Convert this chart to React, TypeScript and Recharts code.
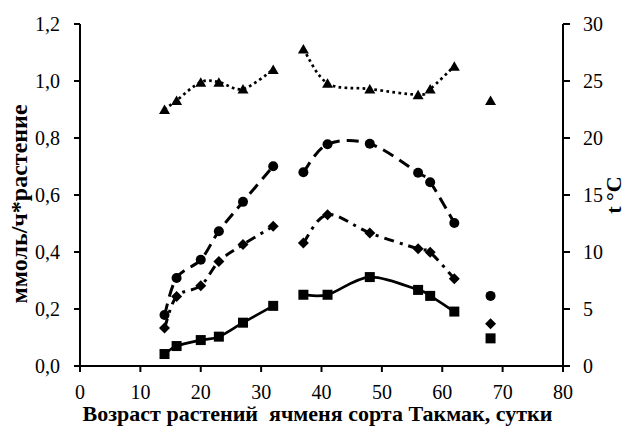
import React from 'react';
import { ComposedChart, Line, XAxis, YAxis, Label } from 'recharts';

// возраст растений, сутки
const days = [14, 16, 20, 23, 27, 32, 37, 41, 48, 56, 58, 62, 68];
// line breaks after these days
const breaksAfter = [32, 62];

const squares = [0.042, 0.07, 0.091, 0.103, 0.152, 0.211, 0.25, 0.25, 0.312, 0.267, 0.246, 0.191, 0.097];
const circles = [0.179, 0.309, 0.373, 0.473, 0.576, 0.701, 0.68, 0.778, 0.78, 0.678, 0.645, 0.502, 0.246];
const diamonds = [0.133, 0.244, 0.282, 0.367, 0.426, 0.49, 0.432, 0.531, 0.467, 0.411, 0.399, 0.306, 0.148];
const temperature = [22.5, 23.3, 24.9, 24.9, 24.3, 26.0, 27.8, 24.8, 24.3, 23.8, 24.3, 26.3, 23.3];

const xTicks = [0, 10, 20, 30, 40, 50, 60, 70, 80];
const leftTicks = [0, 0.2, 0.4, 0.6, 0.8, 1.0, 1.2];
const rightTicks = [0, 5, 10, 15, 20, 25, 30];

const FONT = '"Liberation Serif", "Times New Roman", serif';

const rows: any[] = [];
days.forEach((d, i) => {
  rows.push({ x: d, sq: squares[i], ci: circles[i], di: diamonds[i], t: temperature[i] });
  if (breaksAfter.includes(d) && i < days.length - 1) {
    rows.push({ x: (d + days[i + 1]) / 2 });
  }
});

// Excel-like smoothed line (Catmull-Rom)
const smooth = (context: any) => {
  let pts: number[][] = [];
  return {
    areaStart() {},
    areaEnd() {},
    lineStart() {
      pts = [];
    },
    lineEnd() {
      const n = pts.length;
      if (!n) return;
      context.moveTo(pts[0][0], pts[0][1]);
      for (let i = 0; i < n - 1; i++) {
        const p0 = pts[Math.max(i - 1, 0)];
        const p1 = pts[i];
        const p2 = pts[i + 1];
        const p3 = pts[Math.min(i + 2, n - 1)];
        context.bezierCurveTo(
          p1[0] + (p2[0] - p0[0]) / 6,
          p1[1] + (p2[1] - p0[1]) / 6,
          p2[0] - (p3[0] - p1[0]) / 6,
          p2[1] - (p3[1] - p1[1]) / 6,
          p2[0],
          p2[1]
        );
      }
    },
    point(x: number, y: number) {
      pts.push([+x, +y]);
    },
  };
};

const marker = (kind: string) => (props: any) => {
  const { cx, cy, value, index } = props;
  const key = `${kind}-${index}`;
  if (cx == null || cy == null || value == null) return <g key={key} />;
  if (kind === 'square') return <rect key={key} x={cx - 5} y={cy - 5} width={10} height={10} fill="#000" />;
  if (kind === 'circle') return <circle key={key} cx={cx} cy={cy} r={5} fill="#000" />;
  if (kind === 'diamond')
    return <polygon key={key} points={`${cx},${cy - 5.5} ${cx + 5.5},${cy} ${cx},${cy + 5.5} ${cx - 5.5},${cy}`} fill="#000" />;
  return <polygon key={key} points={`${cx},${cy - 5} ${cx + 5.5},${cy + 4.5} ${cx - 5.5},${cy + 4.5}`} fill="#000" />;
};

const fmt = (v: number) => v.toFixed(1).replace('.', ',');
const titleStyle = { fontFamily: FONT, fontSize: 22, fontWeight: 'bold' as const };

const makeTick = (format: (v: number) => string, dy: string) => (p: any) => (
  <text
    key={`t-${p.index}-${p.payload.value}`}
    x={p.x}
    y={p.y}
    dy={dy}
    textAnchor={p.textAnchor}
    style={{ fontFamily: FONT, fontSize: 20 }}
    fill="#000"
  >
    {format(p.payload.value)}
  </text>
);

const App = () => {
  return (
    <div style={{ position: 'absolute', left: 0, top: 0, background: '#fff' }}>
      <ComposedChart width={634} height={434} data={rows} margin={{ top: 24, right: 0, left: 0, bottom: 0 }}>
        <XAxis
          dataKey="x"
          type="number"
          domain={[0, 80]}
          ticks={xTicks}
          height={68}
          tick={makeTick(String, '0.71em')}
          tickSize={6}
          tickMargin={13}
          stroke="#000"
          strokeWidth={2}
        >
          <Label
            content={({ viewBox }: any) => (
              <text x={viewBox.x + viewBox.width / 2 - 4} y={421} textAnchor="middle" style={titleStyle} fill="#000">
                {'Возраст растений\u00A0 ячменя сорта Такмак, сутки'}
              </text>
            )}
          />
        </XAxis>
        <YAxis
          yAxisId="left"
          orientation="left"
          width={80}
          domain={[0, 1.2]}
          ticks={leftTicks}
          tick={makeTick(fmt, '0.34em')}
          tickSize={6}
          tickMargin={14}
          stroke="#000"
          strokeWidth={2}
        >
          <Label
            content={({ viewBox }: any) => {
              const cy = viewBox.y + viewBox.height / 2 + 9;
              return (
                <text
                  x={19}
                  y={cy}
                  transform={`rotate(-90 19 ${cy})`}
                  textAnchor="middle"
                  dominantBaseline="central"
                  style={{ ...titleStyle, fontSize: 24 }}
                  fill="#000"
                >
                  ммоль/ч*растение
                </text>
              );
            }}
          />
        </YAxis>
        <YAxis
          yAxisId="right"
          orientation="right"
          width={71}
          domain={[0, 30]}
          ticks={rightTicks}
          tick={makeTick(String, '0.34em')}
          tickSize={7}
          tickMargin={13}
          stroke="#000"
          strokeWidth={2}
        >
          <Label
            content={({ viewBox }: any) => {
              const cy = viewBox.y + viewBox.height / 2;
              return (
                <text
                  x={613}
                  y={cy}
                  transform={`rotate(-90 613 ${cy})`}
                  textAnchor="middle"
                  dominantBaseline="central"
                  style={titleStyle}
                  fill="#000"
                >
                  t °C
                </text>
              );
            }}
          />
        </YAxis>
        <Line
          yAxisId="right"
          dataKey="t"
          type={smooth as any}
          stroke="#000"
          strokeWidth={2.7}
          strokeDasharray="2.7 3.3"
          dot={marker('triangle')}
          isAnimationActive={false}
        />
        <Line
          yAxisId="left"
          dataKey="ci"
          type={smooth as any}
          stroke="#000"
          strokeWidth={3}
          strokeDasharray="12 7"
          dot={marker('circle')}
          isAnimationActive={false}
        />
        <Line
          yAxisId="left"
          dataKey="di"
          type={smooth as any}
          stroke="#000"
          strokeWidth={3}
          strokeDasharray="10 6 3 6"
          dot={marker('diamond')}
          isAnimationActive={false}
        />
        <Line
          yAxisId="left"
          dataKey="sq"
          type={smooth as any}
          stroke="#000"
          strokeWidth={2.7}
          dot={marker('square')}
          isAnimationActive={false}
        />
      </ComposedChart>
    </div>
  );
};

export default App;
